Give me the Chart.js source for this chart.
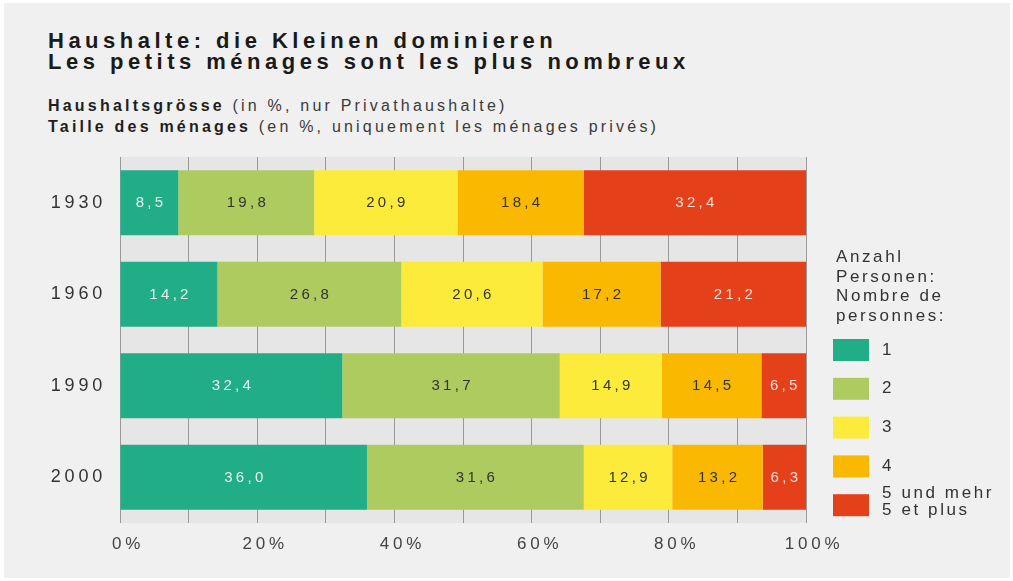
<!DOCTYPE html>
<html><head><meta charset="utf-8">
<script src="https://cdn.jsdelivr.net/npm/chart.js@4"></script>
<style>
html,body{margin:0;padding:0;background:#fff;width:1013px;height:581px;overflow:hidden;}
#frame{position:absolute;left:4px;top:3px;width:1006px;height:575px;background:#f0f0f0;}
#c{position:absolute;left:0;top:0;}
.t{position:absolute;left:48px;font-family:"Liberation Sans",Arial,sans-serif;white-space:nowrap;}
#title{top:30px;font-size:22px;line-height:21px;font-weight:bold;letter-spacing:4.5px;color:#1a1a1a;}
#sub{top:95px;font-size:16px;line-height:21px;letter-spacing:3.2px;color:#3a3a3a;}
#sub b{color:#1e1e1e;}
</style></head>
<body>
<div id="frame"></div>
<div id="title" class="t">Haushalte: die Kleinen dominieren<br>Les petits ménages sont les plus nombreux</div>
<div id="sub" class="t"><b>Haushaltsgrösse</b> (in %, nur Privathaushalte)<br><b>Taille des ménages</b> (en %, uniquement les ménages privés)</div>
<canvas id="c" width="1013" height="581"></canvas>
<script>
// ---- data ----
const categories = ['1930', '1960', '1990', '2000'];
const persons1 = [8.5, 14.2, 32.4, 36.0];
const persons2 = [19.8, 26.8, 31.7, 31.6];
const persons3 = [20.9, 20.6, 14.9, 12.9];
const persons4 = [18.4, 17.2, 14.5, 13.2];
const persons5plus = [32.4, 21.2, 6.5, 6.3];
const seriesLabels = [['1'], ['2'], ['3'], ['4'], ['5 und mehr', '5 et plus']];
const xTickLabelled = [0, 20, 40, 60, 80, 100];
const legendHeader = ['Anzahl', 'Personen:', 'Nombre de', 'personnes:'];

// ---- styles ----
const FAMILY = '"Liberation Sans", Arial, sans-serif';
const colors = ['#21ad85', '#aecb5f', '#fdeb3b', '#fbb800', '#e4401a'];
const valueLabelColors = ['#e6f3ec', '#333333', '#333333', '#333333', '#f4dfd6'];
const series = [persons1, persons2, persons3, persons4, persons5plus];

const bgPlugin = {
  id: 'bg',
  beforeDraw(chart) {
    const {ctx, chartArea: a} = chart;
    ctx.save();
    ctx.fillStyle = '#e6e6e6';
    ctx.fillRect(a.left, a.top, a.right - a.left, a.bottom - a.top);
    ctx.restore();
    ctx.letterSpacing = '3.8px';
  }
};

const valuePlugin = {
  id: 'values',
  afterDatasetsDraw(chart) {
    const ctx = chart.ctx;
    ctx.save();
    ctx.font = '15px ' + FAMILY;
    ctx.letterSpacing = '3.3px';
    ctx.textAlign = 'center';
    ctx.textBaseline = 'middle';
    chart.data.datasets.forEach((ds, i) => {
      const meta = chart.getDatasetMeta(i);
      meta.data.forEach((bar, j) => {
        const v = ds.data[j];
        ctx.fillStyle = valueLabelColors[i];
        ctx.fillText(v.toFixed(1).replace('.', ','), (bar.x + bar.base) / 2 + 1.6, bar.y + 0.5);
      });
    });
    ctx.restore();
  }
};

const legendPlugin = {
  id: 'customLegend',
  afterDraw(chart) {
    const ctx = chart.ctx;
    const x0 = chart.chartArea.right + 27;
    ctx.save();
    ctx.font = '17px ' + FAMILY;
    ctx.letterSpacing = '2.6px';
    ctx.fillStyle = '#333';
    ctx.textAlign = 'left';
    ctx.textBaseline = 'alphabetic';
    legendHeader.forEach((t, k) => ctx.fillText(t, x0 + 3, 262 + k * 19.7));
    chart.data.datasets.forEach((ds, i) => {
      const top = 339 + i * 38.8;
      ctx.fillStyle = ds.backgroundColor;
      ctx.fillRect(x0, top, 36, 22);
      ctx.fillStyle = '#333';
      const lines = seriesLabels[i];
      const cy = top + 11;
      ctx.textBaseline = 'middle';
      lines.forEach((l, k) => {
        const y = cy + (k - (lines.length - 1) / 2) * 17 - (lines.length > 1 ? 3 : 0);
        ctx.fillText(l, x0 + 49, y);
      });
    });
    ctx.restore();
  }
};

new Chart(document.getElementById('c'), {
  type: 'bar',
  data: {
    labels: categories,
    datasets: series.map((d, i) => ({
      label: seriesLabels[i].join(' / '),
      data: d,
      backgroundColor: colors[i],
      borderWidth: 0,
      barPercentage: 0.71,
      categoryPercentage: 1
    }))
  },
  options: {
    indexAxis: 'y',
    responsive: false,
    animation: false,
    layout: {padding: {top: 157, right: 207, bottom: 28, left: 0}},
    plugins: {legend: {display: false}, tooltip: {enabled: false}, title: {display: false}},
    scales: {
      x: {
        stacked: true, min: 0, max: 100,
        ticks: {
          stepSize: 10, autoSkip: false, maxRotation: 0, minRotation: 0,
          callback: (v) => xTickLabelled.includes(v) ? v + '%' : '',
          color: '#444', font: {family: FAMILY, size: 17}, padding: 11, labelOffset: 8
        },
        grid: {color: '#9a9a9a', lineWidth: 1, drawTicks: false},
        border: {display: false},
        afterFit: (s) => { s.height = 30; }
      },
      y: {
        stacked: true,
        ticks: {color: '#333', font: {family: FAMILY, size: 18}, padding: 14},
        grid: {display: false, drawTicks: false},
        border: {display: false},
        afterFit: (s) => { s.width = 120; }
      }
    }
  },
  plugins: [bgPlugin, valuePlugin, legendPlugin]
});
</script>
</body></html>
